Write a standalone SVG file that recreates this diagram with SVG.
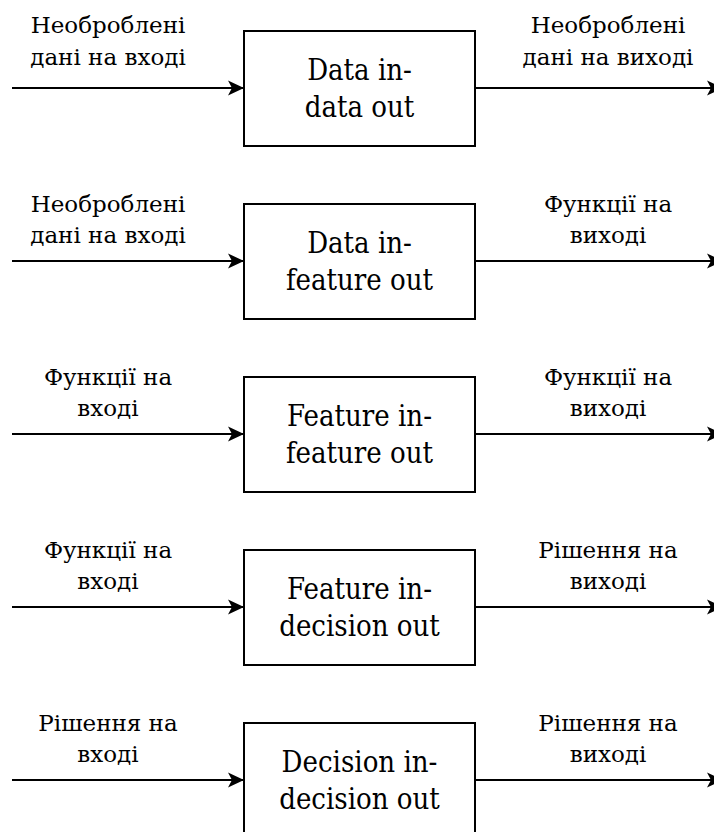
<svg xmlns="http://www.w3.org/2000/svg" width="714" height="832" viewBox="0 0 714 832">
  <style>
    .box { fill: #ffffff; stroke: #000000; stroke-width: 2; }
    .wire { fill: none; stroke: #000000; stroke-width: 2; }
    text { font-family: "DejaVu Serif", serif; fill: #000000; text-anchor: middle; }
    .title { font-size: 29px; font-stretch: condensed; }
    .lbl { font-size: 23px; }
  </style>
  <defs>
    <marker id="arrow" markerUnits="userSpaceOnUse" markerWidth="18" markerHeight="18" viewBox="0 0 18 18" refX="16" refY="9" orient="auto">
      <path d="M0,1.5 L16,9 L0,16.5 L4,9 Z" fill="#000000"/>
    </marker>
  </defs>
  <rect width="714" height="832" fill="#ffffff"/>

  <!-- flow lines -->
  <g id="connectors">
    <path class="wire" d="M12,88 H244" marker-end="url(#arrow)"/>
    <path class="wire" d="M475,88 H723" marker-end="url(#arrow)"/>
    <path class="wire" d="M12,261 H244" marker-end="url(#arrow)"/>
    <path class="wire" d="M475,261 H723" marker-end="url(#arrow)"/>
    <path class="wire" d="M12,434 H244" marker-end="url(#arrow)"/>
    <path class="wire" d="M475,434 H723" marker-end="url(#arrow)"/>
    <path class="wire" d="M12,607 H244" marker-end="url(#arrow)"/>
    <path class="wire" d="M475,607 H723" marker-end="url(#arrow)"/>
    <path class="wire" d="M12,780 H244" marker-end="url(#arrow)"/>
    <path class="wire" d="M475,780 H723" marker-end="url(#arrow)"/>
  </g>

  <!-- input / output labels -->
  <g id="labels">
    <text class="lbl" x="108" y="33">Необроблені</text>
    <text class="lbl" x="108" y="65">дані на вході</text>
    <text class="lbl" x="608" y="33">Необроблені</text>
    <text class="lbl" x="608" y="65">дані на виході</text>

    <text class="lbl" x="108" y="212">Необроблені</text>
    <text class="lbl" x="108" y="243">дані на вході</text>
    <text class="lbl" x="608" y="212">Функції на</text>
    <text class="lbl" x="608" y="243">виході</text>

    <text class="lbl" x="108" y="385">Функції на</text>
    <text class="lbl" x="108" y="416">вході</text>
    <text class="lbl" x="608" y="385">Функції на</text>
    <text class="lbl" x="608" y="416">виході</text>

    <text class="lbl" x="108" y="558">Функції на</text>
    <text class="lbl" x="108" y="589">вході</text>
    <text class="lbl" x="608" y="558">Рішення на</text>
    <text class="lbl" x="608" y="589">виході</text>

    <text class="lbl" x="108" y="731">Рішення на</text>
    <text class="lbl" x="108" y="762">вході</text>
    <text class="lbl" x="608" y="731">Рішення на</text>
    <text class="lbl" x="608" y="762">виході</text>
  </g>

  <!-- processing stages -->
  <g id="data-data">
    <rect class="box" x="244" y="31" width="231" height="115"/>
    <text class="title" x="359.5" y="80">Data in-</text>
    <text class="title" x="359.5" y="117">data out</text>
  </g>
  <g id="data-feature">
    <rect class="box" x="244" y="204" width="231" height="115"/>
    <text class="title" x="359.5" y="253">Data in-</text>
    <text class="title" x="359.5" y="290">feature out</text>
  </g>
  <g id="feature-feature">
    <rect class="box" x="244" y="377" width="231" height="115"/>
    <text class="title" x="359.5" y="426">Feature in-</text>
    <text class="title" x="359.5" y="463">feature out</text>
  </g>
  <g id="feature-decision">
    <rect class="box" x="244" y="550" width="231" height="115"/>
    <text class="title" x="359.5" y="599">Feature in-</text>
    <text class="title" x="359.5" y="636">decision out</text>
  </g>
  <g id="decision-decision">
    <rect class="box" x="244" y="723" width="231" height="115"/>
    <text class="title" x="359.5" y="772">Decision in-</text>
    <text class="title" x="359.5" y="809">decision out</text>
  </g>
</svg>
